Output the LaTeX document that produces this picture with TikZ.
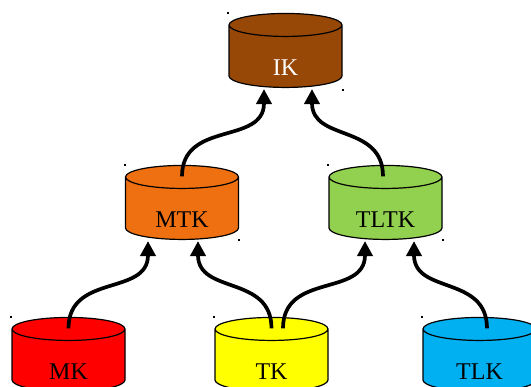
\documentclass[tikz,border=0pt]{standalone}
\usepackage{fontspec}
\setmainfont{Liberation Serif}
\usetikzlibrary{shapes.geometric,arrows.meta,calc}

\definecolor{ikbrown}{RGB}{152,72,6}
\definecolor{mtkorange}{RGB}{238,112,17}
\definecolor{tltkgreen}{RGB}{146,208,80}
\definecolor{mkred}{RGB}{255,0,0}
\definecolor{tkyellow}{RGB}{255,255,0}
\definecolor{tlkblue}{RGB}{0,176,240}

\tikzset{
store/.style={
cylinder,
shape border rotate=90,
aspect=0.5,
text width=46pt,
draw=black,
line width=1.2pt,
minimum width=113pt,
minimum height=74pt,
inner sep=0pt
},
storelabel/.style={
yshift=-11pt,
font=\fontsize{24}{28}\selectfont
},
link/.style={
line width=3.7pt,
-{Triangle[length=15pt,width=15pt]},
out=90,
in=-90,
looseness=1.2
},
cornerdot/.style={
rectangle,
fill=black,
inner sep=0pt,
minimum size=1.8pt
}
}

\begin{document}
\begin{tikzpicture}[x=1pt,y=1pt]
\useasboundingbox (0,0) rectangle (531,387);
\clip (0,0) rectangle (531,387);

% Nodes
\node (IK) [store, fill=ikbrown,
label={[storelabel, text=white]center:IK}] at (285.5,330.5) {};

\node (MTK) [store, fill=mtkorange,
label={[storelabel]center:MTK}] at (182,178.5) {};
\node (TLTK) [store, fill=tltkgreen,
label={[storelabel]center:TLTK}] at (385.5,178.5) {};

\node (MK) [store, fill=mkred,
label={[storelabel]center:MK}] at (68.5,26.5) {};
\node (TK) [store, fill=tkyellow,
label={[storelabel]center:TK}] at (271.5,26.5) {};
\node (TLK) [store, fill=tlkblue,
label={[storelabel]center:TLK}] at (479.5,26.5) {};

% Corner dots
\node [cornerdot] at (IK.west |- IK.north) {};
\node [cornerdot] at ($(IK.east |- IK.south)+(0,-2)$) {};
\node [cornerdot] at (MTK.west |- MTK.north) {};
\node [cornerdot] at (MTK.east |- MTK.south) {};
\node [cornerdot] at (TLTK.west |- TLTK.north) {};
\node [cornerdot] at (TLTK.east |- TLTK.south) {};
\node [cornerdot] at (MK.west |- MK.north) {};
\node [cornerdot] at (TK.west |- TK.north) {};
\node [cornerdot] at (TLK.west |- TLK.north) {};

% Arrows
\draw [link] ($(MK.north)+(0,-11.5)$) to ($(MTK.south)+(-34,-1)$);
\draw [link] ($(TK.north)+(0,-11.5)$) to ($(MTK.south)+(16,-1)$);
\draw [link] ($(TK.north)+(11.5,-11.5)$) to ($(TLTK.south)+(-20.5,-1)$);
\draw [link] ($(TLK.north)+(7.5,-11.5)$) to ($(TLTK.south)+(28.5,-1)$);
\draw [link] ($(MTK.north)+(0,-11.5)$) to ($(IK.south)+(-21.5,-1)$);
\draw [link] ($(TLTK.north)+(-2.5,-11.5)$) to ($(IK.south)+(26.5,-1)$);

\end{tikzpicture}
\end{document}
